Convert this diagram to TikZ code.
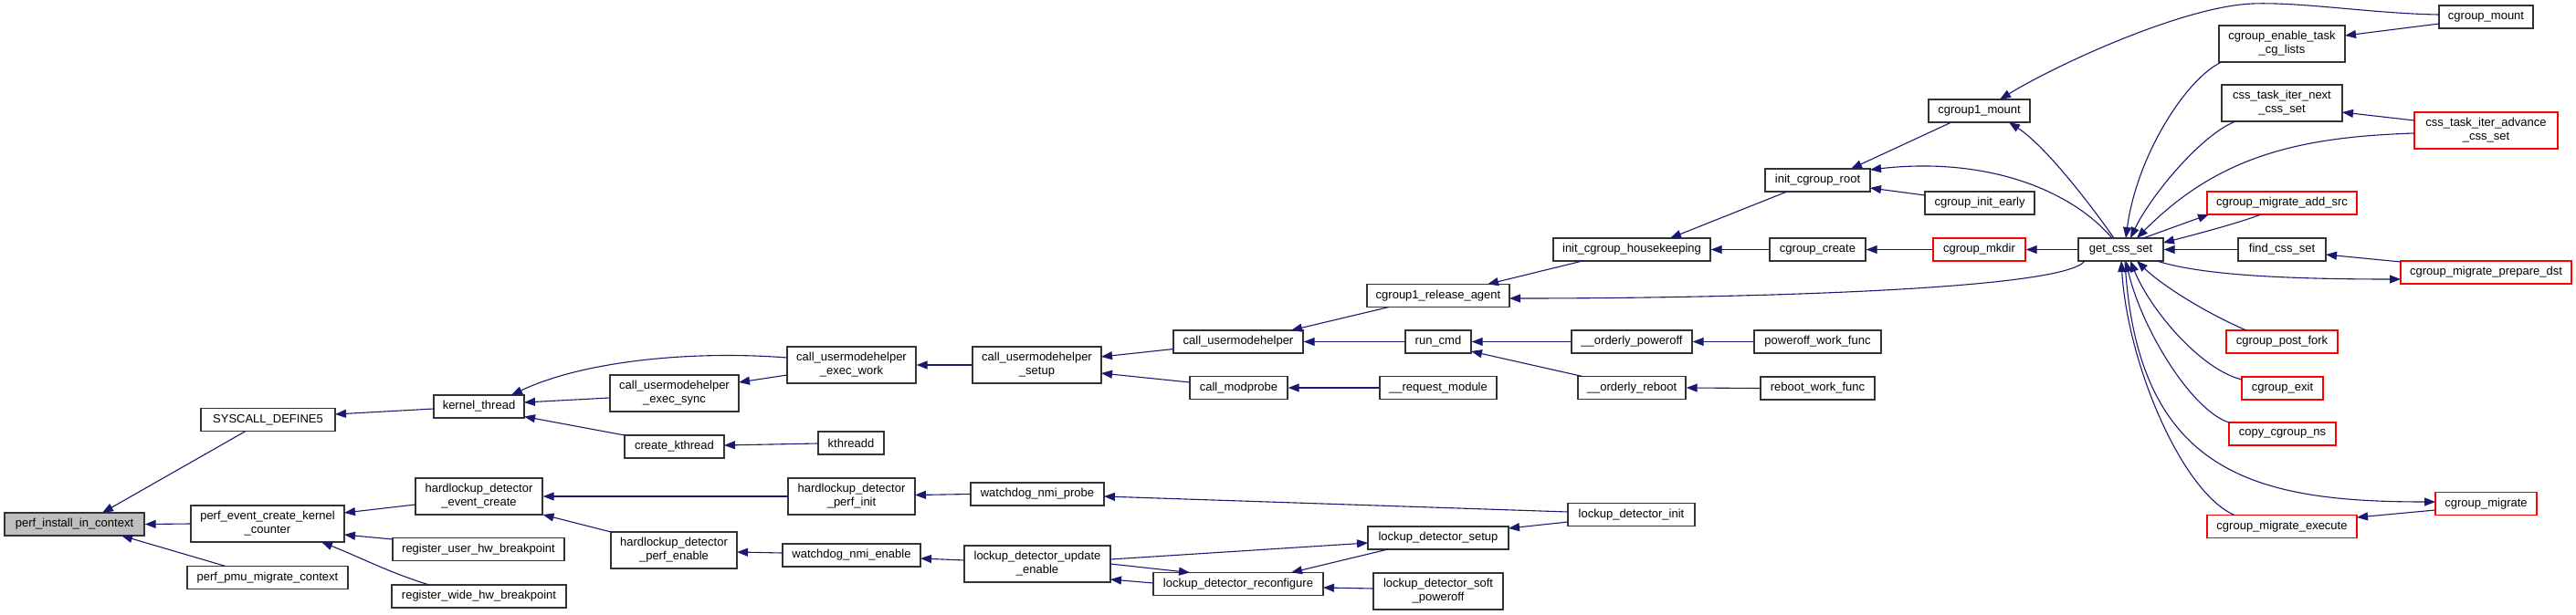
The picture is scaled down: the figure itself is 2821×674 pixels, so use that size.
\documentclass[tikz,border=0pt]{standalone}
\usepackage{fontspec}
\setmainfont{Liberation Sans}
\usetikzlibrary{arrows.meta,calc}
\definecolor{edgecol}{HTML}{191970}
\definecolor{boxred}{HTML}{FF0000}
\definecolor{boxgray}{HTML}{BFBFBF}
\definecolor{boxline}{HTML}{333333}
\begin{document}
\begin{tikzpicture}[x=1pt,y=-1pt,
  box/.style={draw=boxline, line width=1.4pt, inner sep=0pt, minimum height=25pt,
    font=\fontsize{13}{15}\selectfont, align=center, fill=white},
  box2/.style={box, minimum height=40pt},
  redbox/.style={draw=boxred},
  conn/.style={draw=edgecol, line width=1.1pt, -{Triangle[length=12pt,width=9pt]}}]
\useasboundingbox[fill=white] (0,0) rectangle (2821,674);

% ---------------- nodes ----------------
\node[box, fill=boxgray, minimum width=153pt] (pinst) at (81.5,574.5) {perf\_install\_in\_context};
\node[box, minimum width=147pt] (syscall) at (293.5,460) {SYSCALL\_DEFINE5};
\node[box2, minimum width=168pt] (pecc) at (293,574) {perf\_event\_create\_kernel\\\_counter};
\node[box, minimum width=176pt] (ppmc) at (293,633) {perf\_pmu\_migrate\_context};
\node[box, minimum width=99pt] (kthread) at (524.5,445.5) {kernel\_thread};
\node[box2, minimum width=139pt] (hdec) at (524.5,544) {hardlockup\_detector\\\_event\_create};
\node[box, minimum width=188pt] (ruhb) at (524,602) {register\_user\_hw\_breakpoint};
\node[box, minimum width=191pt] (rwhb) at (524.5,653.5) {register\_wide\_hw\_breakpoint};
\node[box2, minimum width=141pt] (cues) at (738.5,431) {call\_usermodehelper\\\_exec\_sync};
\node[box, minimum width=109pt] (ckt) at (738.5,489.5) {create\_kthread};
\node[box2, minimum width=141pt] (cuew) at (932.5,400) {call\_usermodehelper\\\_exec\_work};
\node[box, minimum width=72pt] (kthreadd) at (932,485.5) {kthreadd};
\node[box2, minimum width=139pt] (hdpi) at (932.5,544) {hardlockup\_detector\\\_perf\_init};
\node[box2, minimum width=138pt] (hdpe) at (738,603) {hardlockup\_detector\\\_perf\_enable};
\node[box, minimum width=151pt] (wne) at (932.5,608.5) {watchdog\_nmi\_enable};
\node[box2, minimum width=141pt] (cus) at (1135.5,400) {call\_usermodehelper\\\_setup};
\node[box, minimum width=146pt] (wnp) at (1136,541.5) {watchdog\_nmi\_probe};
\node[box2, minimum width=160pt] (ldue) at (1136,618) {lockup\_detector\_update\\\_enable};
\node[box, minimum width=142pt] (cuh) at (1356,374.5) {call\_usermodehelper};
\node[box, minimum width=107pt] (cmp) at (1356.5,425) {call\_modprobe};
\node[box, minimum width=186pt] (ldr) at (1356,640) {lockup\_detector\_reconfigure};
\node[box, minimum width=156pt] (cra) at (1575,324) {cgroup1\_release\_agent};
\node[box, minimum width=72pt] (runcmd) at (1575,374.5) {run\_cmd};
\node[box, minimum width=128pt] (reqmod) at (1575,425) {\_\_request\_module};
\node[box, minimum width=154pt] (lds) at (1575,589.5) {lockup\_detector\_setup};
\node[box2, minimum width=142pt] (ldsp) at (1575,648) {lockup\_detector\_soft\\\_poweroff};
\node[box, minimum width=172pt] (ich) at (1787,273.5) {init\_cgroup\_housekeeping};
\node[box, minimum width=132pt] (op) at (1787,374.5) {\_\_orderly\_poweroff};
\node[box, minimum width=118pt] (orb) at (1787,425) {\_\_orderly\_reboot};
\node[box, minimum width=139pt] (ldi) at (1786.5,564) {lockup\_detector\_init};
\node[box, minimum width=115pt] (icr) at (1990.5,197.5) {init\_cgroup\_root};
\node[box, minimum width=105pt] (cc) at (1990.5,273.5) {cgroup\_create};
\node[box, minimum width=139pt] (pwf) at (1990.5,374.5) {poweroff\_work\_func};
\node[box, minimum width=125pt] (rwf) at (1990.5,425.5) {reboot\_work\_func};
\node[box, minimum width=111pt] (c1m) at (2167.5,121.5) {cgroup1\_mount};
\node[box, minimum width=120pt] (cie) at (2168,222.5) {cgroup\_init\_early};
\node[box, redbox, minimum width=101pt] (cmk) at (2167.5,273.5) {cgroup\_mkdir};
\node[box, minimum width=93pt] (gcs) at (2322.5,273.5) {get\_css\_set};
\node[box2, minimum width=138pt] (cetcl) at (2499,48) {cgroup\_enable\_task\\\_cg\_lists};
\node[box2, minimum width=132pt] (ctin) at (2499,113) {css\_task\_iter\_next\\\_css\_set};
\node[box, redbox, minimum width=164pt] (cmas) at (2499,222.5) {cgroup\_migrate\_add\_src};
\node[box, minimum width=96pt] (fcs) at (2499,273.5) {find\_css\_set};
\node[box, redbox, minimum width=122pt] (cpf) at (2499,374.5) {cgroup\_post\_fork};
\node[box, redbox, minimum width=89pt] (cex) at (2499.5,425.5) {cgroup\_exit};
\node[box, redbox, minimum width=117pt] (ccn) at (2499.5,475.5) {copy\_cgroup\_ns};
\node[box, redbox, minimum width=164pt] (cme) at (2499,577) {cgroup\_migrate\_execute};
\node[box, minimum width=103pt] (cmount) at (2722.5,18.5) {cgroup\_mount};
\node[box2, redbox, minimum width=157pt] (ctia) at (2722.5,143) {css\_task\_iter\_advance\\\_css\_set};
\node[box, redbox, minimum width=187pt] (cmpd) at (2722.5,298.5) {cgroup\_migrate\_prepare\_dst};
\node[box, redbox, minimum width=111pt] (cmig) at (2722.5,552) {cgroup\_migrate};

% ---------------- edges ----------------
\draw[conn] ($(syscall)+(-24.5,12.5)$) -- ($(pinst)+(30.5,-12.5)$);
\draw[conn] (pecc.west) -- (pinst.east);
\draw[conn] ($(ppmc)+(-46,-12.5)$) -- ($(pinst)+(51.5,12.5)$);
\draw[conn] ($(kthread)+(-49.5,2.5)$) -- ($(syscall)+(73.5,-6)$);
\draw[conn] ($(hdec)+(-69.5,9)$) -- ($(pecc)+(84,-12)$);
\draw[conn] ($(ruhb)+(-94,-11)$) -- ($(pecc)+(84,12)$);
\draw[conn] ($(rwhb)+(-54.5,-12.5)$) .. controls (425,627) and (395,611) .. ($(pecc)+(59,20)$);
\draw[conn] ($(cuew)+(-70.5,-8)$) .. controls (760,384) and (640,395) .. ($(kthread)+(35.5,-12.5)$);
\draw[conn] ($(cues)+(-70.5,5)$) -- ($(kthread)+(49.5,-4.5)$);
\draw[conn] ($(ckt)+(-54.5,-12.5)$) -- ($(kthread)+(49.5,11)$);
\draw[conn] ($(cuew)+(-70.5,11)$) -- ($(cues)+(70.5,-12)$);
\draw[conn] (cus.west) -- (cuew.east);
\draw[conn] ($(kthreadd)+(-36,0.5)$) -- ($(ckt)+(54.5,-1.5)$);
\draw[conn] (hdpi.west) -- (hdec.east);
\draw[conn] ($(hdpe)+(-69,-20)$) -- ($(hdec)+(70,20)$);
\draw[conn] ($(wnp)+(-73,0)$) -- ($(hdpi)+(69.5,-1.5)$);
\draw[conn] ($(wne)+(-75.5,-2.5)$) -- ($(hdpe)+(69,2)$);
\draw[conn] ($(ldue)+(-80,-4)$) -- ($(wne)+(75.5,3.5)$);
\draw[conn] ($(cuh)+(-71,8)$) -- ($(cus)+(70.5,-9)$);
\draw[conn] ($(cmp)+(-53.5,-6)$) -- ($(cus)+(70.5,9)$);
\draw[conn] ($(cra)+(-54,12.5)$) -- ($(cuh)+(58,-12.5)$);
\draw[conn] (runcmd.west) -- (cuh.east);
\draw[conn] (reqmod.west) -- (cmp.east);
\draw[conn] ($(ldue)+(80,-5)$) -- ($(lds)+(-77,5.5)$);
\draw[conn] ($(ldue)+(80,0)$) -- ($(ldr)+(-53,-12.5)$);
\draw[conn] ($(ldr)+(-93,-1)$) -- ($(ldue)+(80,17)$);
\draw[conn] ($(lds)+(-55,12.5)$) -- ($(ldr)+(58,-12.5)$);
\draw[conn] ($(ldsp)+(-71,-3)$) -- ($(ldr)+(93,4)$);
\draw[conn] ($(ich)+(-54,12.5)$) -- ($(cra)+(54,-12.5)$);
\draw[conn] ($(gcs)+(-39.5,12.5)$) .. controls (2260,318) and (1900,327) .. ($(cra)+(78,3)$);
\draw[conn] ($(icr)+(-33.5,12.5)$) -- ($(ich)+(42,-12.5)$);
\draw[conn] (cc.west) -- (ich.east);
\draw[conn] (cmk.west) -- (cc.east);
\draw[conn] (gcs.west) -- (cmk.east);
\draw[conn] (pwf.west) -- (op.east);
\draw[conn] (rwf.west) -- (orb.east);
\draw[conn] ($(orb)+(-54,-12.5)$) -- ($(runcmd)+(36,10.5)$);
\draw[conn] (op.west) -- (runcmd.east);
\draw[conn] ($(ldi)+(-69.5,-3)$) -- ($(wnp)+(73,2.5)$);
\draw[conn] ($(ldi)+(-69.5,8)$) -- ($(lds)+(77,-10.5)$);
\draw[conn] ($(c1m)+(-30.5,12.5)$) -- ($(icr)+(36.5,-12.5)$);
\draw[conn] ($(gcs)+(-9.5,-12.5)$) .. controls (2265,205) and (2170,172) .. ($(icr)+(57.5,-11.5)$);
\draw[conn] ($(cie)+(-60,-8.5)$) -- ($(icr)+(57.5,8.5)$);
\draw[conn] ($(gcs)+(-7.5,-12.5)$) .. controls (2290,225) and (2240,160) .. ($(c1m)+(32.5,12.5)$);
\draw[conn] ($(cmount)+(-51.5,-2.5)$) .. controls (2600,15) and (2520,2) .. (2467,4)
   .. controls (2390,7) and (2250,72) .. ($(c1m)+(22.5,-12.5)$);
\draw[conn] ($(cmount)+(-51.5,7.5)$) -- ($(cetcl)+(69,-9)$);
\draw[conn] ($(cetcl)+(-66,20)$) .. controls (2395,85) and (2340,170) .. ($(gcs)+(5.5,-12.5)$);
\draw[conn] ($(ctin)+(-51,20)$) .. controls (2410,148) and (2355,215) .. ($(gcs)+(10.5,-12.5)$);
\draw[conn] ($(ctia)+(-78.5,-11)$) -- ($(ctin)+(66,10)$);
\draw[conn] ($(ctia)+(-78.5,3)$) .. controls (2520,150) and (2430,170) .. ($(gcs)+(17.5,-12.5)$);
\draw[conn] ($(gcs)+(24.5,-12.5)$) -- ($(cmas)+(-80,12.5)$);
\draw[conn] ($(cmas)+(-23,12.5)$) .. controls (2450,245) and (2400,258) .. ($(gcs)+(46.5,-7.5)$);
\draw[conn] (fcs.west) -- (gcs.east);
\draw[conn] ($(cmpd)+(-93.5,-11.5)$) -- ($(fcs)+(48,5.5)$);
\draw[conn] ($(gcs)+(39.5,12.5)$) .. controls (2400,298) and (2470,306) .. ($(cmpd)+(-93.5,7.5)$);
\draw[conn] ($(cpf)+(-39,-12.5)$) .. controls (2420,345) and (2370,315) .. ($(gcs)+(17.5,12.5)$);
\draw[conn] ($(cex)+(-44.5,-9.5)$) .. controls (2410,405) and (2355,340) .. ($(gcs)+(10.5,12.5)$);
\draw[conn] ($(ccn)+(-58.5,-12.5)$) .. controls (2400,450) and (2345,360) .. ($(gcs)+(5.5,12.5)$);
\draw[conn] ($(gcs)+(4.5,12.5)$) .. controls (2340,520) and (2470,550) .. ($(cmig)+(-55.5,-2)$);
\draw[conn] ($(cme)+(-52,-12.5)$) .. controls (2390,540) and (2330,400) .. ($(gcs)+(0.5,12.5)$);
\draw[conn] ($(cmig)+(-55.5,7)$) -- ($(cme)+(82,-10)$);
\end{tikzpicture}
\end{document}
